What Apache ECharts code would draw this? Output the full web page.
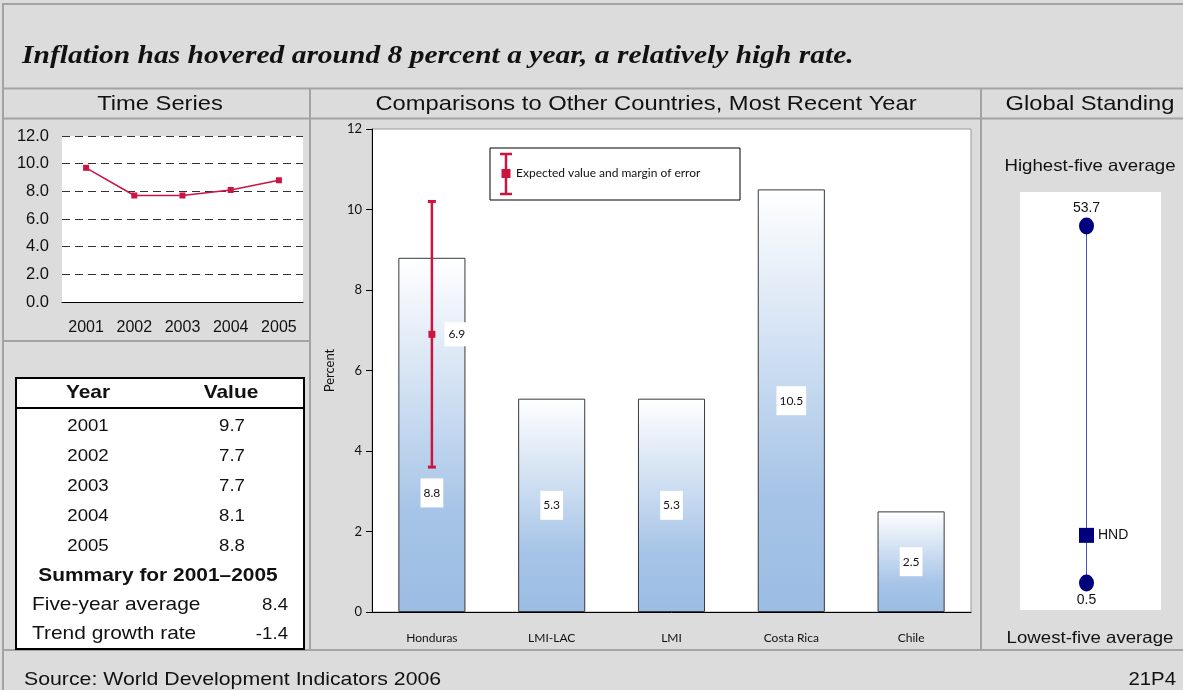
<!DOCTYPE html>
<html>
<head>
<meta charset="utf-8">
<script src="https://cdn.jsdelivr.net/npm/echarts@6/dist/echarts.min.js"></script>
<style>
  html, body { margin: 0; padding: 0; background: #dcdcdc; }
  #chart { width: 1183px; height: 690px; }
</style>
</head>
<body>
<div id="chart"></div>
<script>
// ---- Data ----
const titleText = 'Inflation has hovered around 8 percent a year, a relatively high rate.';
const panelTitles = ['Time Series', 'Comparisons to Other Countries, Most Recent Year', 'Global Standing'];

const years = ['2001', '2002', '2003', '2004', '2005'];
const inflation = [9.7, 7.7, 7.7, 8.1, 8.8];

const summaryTitle = 'Summary for 2001\u20132005';
const summaryLabels = ['Five-year average', 'Trend growth rate'];
const summaryValues = [8.4, -1.4];

const countries = ['Honduras', 'LMI-LAC', 'LMI', 'Costa Rica', 'Chile'];
const recentValues = [8.8, 5.3, 5.3, 10.5, 2.5];
const expectedValue = [6.9, null, null, null, null];
const marginLow = [3.6, null, null, null, null];
const marginHigh = [10.2, null, null, null, null];
const legendText = 'Expected value and margin of error';

const globalHigh = 53.7;
const globalLow = 0.5;
const countryCode = 'HND';
const countryStanding = 7.6;

const sourceText = 'Source: World Development Indicators 2006';
const pageCode = '21P4';

// ---- Styles ----
const RED = '#cc1441';
const NAVY = '#00007f';
const FRAME = '#a3a3a3';
const SANS = '"Liberation Sans", Arial, sans-serif';
const GILL = 'Lato, "Open Sans", sans-serif';

const chart = echarts.init(document.getElementById('chart'), null, { renderer: 'canvas' });

function txt(text, x, y, font, align, extra) {
  return Object.assign({
    type: 'text', x: x, y: y, z: 20, scaleX: 1.13,
    style: { text: text, font: font, fill: '#111', textAlign: align || 'center', textVerticalAlign: 'middle' }
  }, extra || {});
}
function hline(x1, x2, y, w, c, z) {
  return { type: 'line', z: z || 5, shape: { x1: x1, y1: y, x2: x2, y2: y }, style: { stroke: c || FRAME, lineWidth: w || 2 } };
}
function vline(x, y1, y2, w, c, z) {
  return { type: 'line', z: z || 5, shape: { x1: x, y1: y1, x2: x, y2: y2 }, style: { stroke: c || FRAME, lineWidth: w || 2 } };
}

// page frame, headings and footer
const graphics = [
  hline(2, 1183, 4), vline(3, 3, 690),
  hline(2, 1183, 88.5), hline(2, 1183, 118.5),
  vline(310, 88, 650), vline(981, 88, 650),
  hline(2, 310, 341), hline(2, 1183, 650),
  txt(titleText, 22, 57, 'italic bold 25px "Liberation Serif", "Times New Roman", serif', 'left', { scaleX: 1.18 }),
  txt(panelTitles[0], 160, 104, '21px ' + SANS),
  txt(panelTitles[1], 646, 104, '21px ' + SANS),
  txt(panelTitles[2], 1090, 104, '21px ' + SANS),
  txt('Highest-five average', 1090, 166, '16.5px ' + SANS),
  txt('Lowest-five average', 1090, 638, '16.5px ' + SANS),
  txt(sourceText, 24, 680, '19px ' + SANS, 'left', { scaleX: 1.12 }),
  txt(pageCode, 1176, 680, '18px ' + SANS, 'right'),
  // white panel behind the global standing scale
  { type: 'rect', z: 0, shape: { x: 1020, y: 192, width: 141, height: 418 }, style: { fill: '#fff' } }
];

// table built from the time series arrays
const tbl = { x: 16, y: 378, w: 288, h: 271 };
const WORD = '18.5px ' + SANS;
const NUM = '16.5px ' + SANS;
graphics.push({ type: 'rect', z: 10, shape: { x: tbl.x, y: tbl.y, width: tbl.w, height: tbl.h },
  style: { fill: '#fff', stroke: '#000', lineWidth: 2 } });
graphics.push(hline(tbl.x, tbl.x + tbl.w, 408, 2, '#000', 11));
graphics.push(txt('Year', 88, 393, 'bold ' + WORD));
graphics.push(txt('Value', 231, 393, 'bold ' + WORD));
years.forEach(function (yr, i) {
  const cy = 426 + i * 30;
  graphics.push(txt(yr, 88, cy, NUM));
  graphics.push(txt(inflation[i].toFixed(1), 232, cy, NUM));
});
graphics.push(txt(summaryTitle, 158, 576, 'bold ' + WORD));
summaryLabels.forEach(function (lab, i) {
  const cy = 605 + i * 29;
  graphics.push(txt(lab, 32, cy, WORD, 'left'));
  graphics.push(txt(summaryValues[i].toFixed(1), 288, cy, NUM, 'right'));
});

// legend for the error bar
const lg = { x: 490, y: 148, w: 250, h: 52 };
graphics.push({ type: 'rect', z: 10, shape: { x: lg.x, y: lg.y, width: lg.w, height: lg.h },
  style: { fill: '#fff', stroke: '#000', lineWidth: 1 } });
graphics.push(vline(506, 154, 194, 2.5, RED, 11));
graphics.push(hline(500, 512, 154, 2.5, RED, 11));
graphics.push(hline(500, 512, 194, 2.5, RED, 11));
graphics.push({ type: 'rect', z: 12, shape: { x: 501.5, y: 169, width: 9, height: 9 }, style: { fill: RED } });
graphics.push({ type: 'text', x: 516, y: 173, z: 20,
  style: { text: legendText, font: '12px ' + GILL, fill: '#111', textAlign: 'left', textVerticalAlign: 'middle' } });

const barGradient = new echarts.graphic.LinearGradient(0, 0, 0, 1, [
  { offset: 0, color: '#ffffff' },
  { offset: 0.72, color: '#a6c4e7' },
  { offset: 1, color: '#9bbce3' }
]);

const option = {
  backgroundColor: '#dcdcdc',
  animation: false,
  graphic: graphics,
  grid: [
    { left: 62, top: 136, width: 241, height: 166, show: true, backgroundColor: '#fff', borderWidth: 0 },
    { left: 372, top: 129, width: 599, height: 483, show: true, backgroundColor: '#fff', borderColor: '#9a9a9a', borderWidth: 1 },
    { left: 1020, top: 226, width: 133, height: 357 }
  ],
  xAxis: [
    { gridIndex: 0, type: 'category', data: years,
      axisLine: { lineStyle: { color: '#000', width: 1 } },
      axisTick: { length: 5, lineStyle: { color: '#000' } },
      axisLabel: { color: '#111', fontSize: 16, fontFamily: SANS, margin: 18 } },
    { gridIndex: 1, type: 'category', data: countries,
      axisLine: { lineStyle: { color: '#000', width: 1 } },
      axisTick: { length: 6, lineStyle: { color: '#000' } },
      axisLabel: { color: '#111', fontSize: 12, fontFamily: GILL, margin: 20 } },
    { gridIndex: 2, type: 'value', min: -1, max: 1, show: false }
  ],
  yAxis: [
    { gridIndex: 0, type: 'value', min: 0, max: 12, interval: 2,
      axisLine: { show: false }, axisTick: { show: false },
      axisLabel: { color: '#111', fontSize: 16.5, fontFamily: SANS, margin: 13, formatter: function (v) { return v.toFixed(1); } },
      splitLine: { lineStyle: { color: '#333', type: [8, 5], width: 1 } } },
    { gridIndex: 1, type: 'value', min: 0, max: 12, interval: 2,
      name: 'Percent', nameLocation: 'middle', nameGap: 22, nameRotate: 90,
      nameTextStyle: { color: '#111', fontSize: 13, fontFamily: GILL },
      axisLine: { show: true, lineStyle: { color: '#000', width: 1 } },
      axisTick: { show: true, length: 6, lineStyle: { color: '#000' } },
      axisLabel: { color: '#111', fontSize: 13, fontFamily: GILL, margin: 10 },
      splitLine: { show: false } },
    { gridIndex: 2, type: 'value', min: globalLow, max: globalHigh, show: false }
  ],
  series: [
    { type: 'line', xAxisIndex: 0, yAxisIndex: 0, data: inflation,
      symbol: 'rect', symbolSize: 6, itemStyle: { color: RED },
      lineStyle: { color: RED, width: 1.5 } },
    { type: 'bar', xAxisIndex: 1, yAxisIndex: 1, barWidth: '56%',
      data: recentValues.map(function (v, i) {
        const d = { value: v };
        if (i === 0) d.label = { offset: [0, 58] };
        return d;
      }),
      itemStyle: { color: barGradient, borderColor: '#3a3a3a', borderWidth: 1 },
      label: { show: true, position: 'inside', color: '#111', fontSize: 12, fontFamily: GILL,
        backgroundColor: '#fff', padding: [9, 3, 8, 3] } },
    { type: 'custom', xAxisIndex: 1, yAxisIndex: 1, z: 5,
      data: countries.map(function (c, i) { return [i, marginLow[i], marginHigh[i]]; })
        .filter(function (d) { return d[1] != null; }),
      renderItem: function (params, api) {
        const lo = api.coord([api.value(0), api.value(1)]);
        const hi = api.coord([api.value(0), api.value(2)]);
        const cap = 4;
        const st = { stroke: RED, lineWidth: 3 };
        return { type: 'group', children: [
          { type: 'line', shape: { x1: lo[0], y1: lo[1], x2: hi[0], y2: hi[1] }, style: { stroke: RED, lineWidth: 2.5 } },
          { type: 'line', shape: { x1: hi[0] - cap, y1: hi[1], x2: hi[0] + cap, y2: hi[1] }, style: st },
          { type: 'line', shape: { x1: lo[0] - cap, y1: lo[1], x2: lo[0] + cap, y2: lo[1] }, style: st }
        ] };
      } },
    { type: 'scatter', xAxisIndex: 1, yAxisIndex: 1, z: 6, symbol: 'rect', symbolSize: 7,
      itemStyle: { color: RED, opacity: 1 },
      data: countries.map(function (c, i) { return [i, expectedValue[i]]; })
        .filter(function (d) { return d[1] != null; }),
      label: { show: true, position: 'right', distance: 9, color: '#111', fontSize: 12, fontFamily: GILL,
        backgroundColor: '#fff', padding: [6, 4], formatter: function (p) { return p.value[1].toFixed(1); } } },
    { type: 'line', xAxisIndex: 2, yAxisIndex: 2, symbol: 'none', z: 2,
      lineStyle: { color: '#4b4bc4', width: 1 },
      data: [[0, globalHigh], [0, globalLow]] },
    { type: 'scatter', xAxisIndex: 2, yAxisIndex: 2, symbol: 'circle', symbolSize: [15, 17], z: 8,
      itemStyle: { color: NAVY, opacity: 1 },
      data: [
        { value: [0, globalHigh], label: { position: 'top', distance: 2 } },
        { value: [0, globalLow], label: { position: 'bottom', distance: 2 } }
      ],
      label: { show: true, color: '#111', fontSize: 14, fontFamily: SANS,
        formatter: function (p) { return p.value[1].toFixed(1); } } },
    { type: 'scatter', xAxisIndex: 2, yAxisIndex: 2, symbol: 'rect', symbolSize: 15, z: 8,
      itemStyle: { color: NAVY, opacity: 1 },
      data: [[0, countryStanding]],
      label: { show: true, position: 'right', distance: 4, color: '#111', fontSize: 14, fontFamily: SANS,
        formatter: function () { return countryCode; } } }
  ]
};
chart.setOption(option);
</script>
</body>
</html>
